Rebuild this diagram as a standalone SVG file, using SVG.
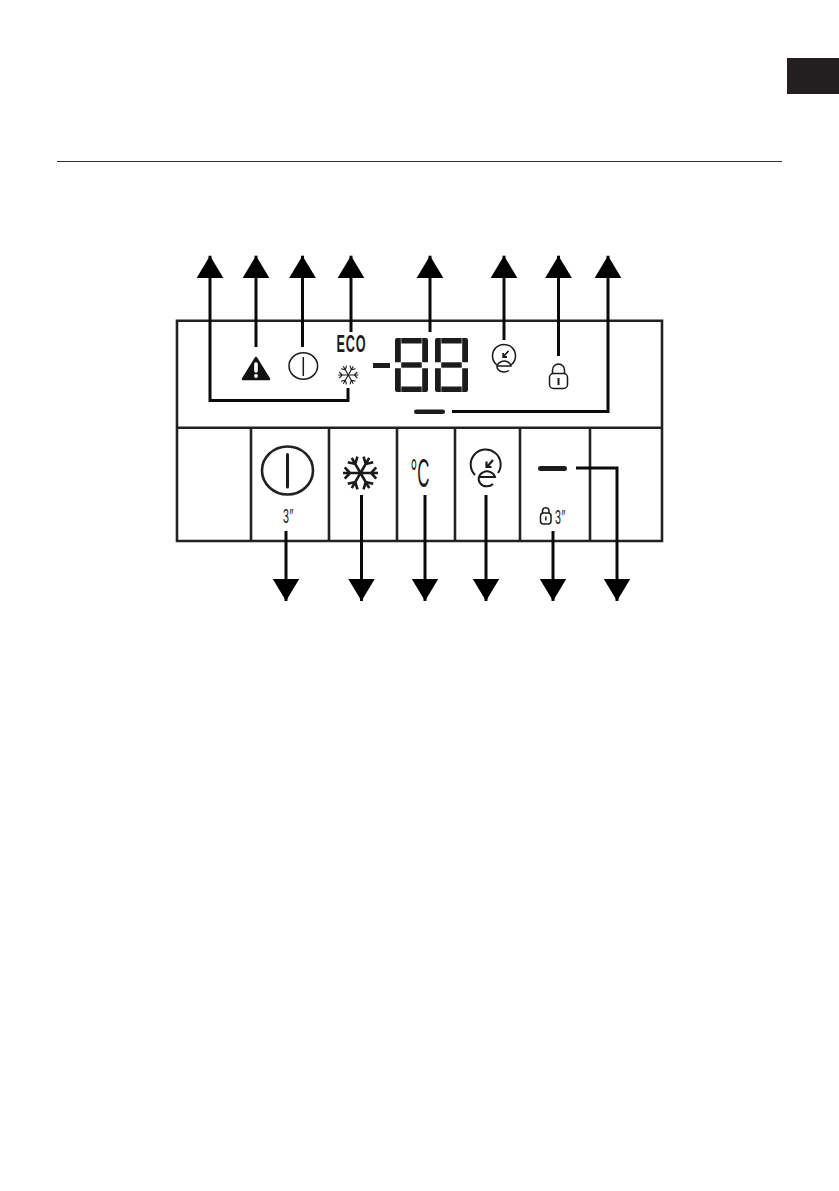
<svg xmlns="http://www.w3.org/2000/svg" width="839" height="1191" viewBox="0 0 839 1191">
<style>
.f{fill:none;stroke:#222;stroke-width:2.6}
.c{fill:none;stroke:#0a0a0a;stroke-width:3}
.i{fill:none;stroke:#1a1a1a;stroke-width:1.5}
.s{fill:#1c1c1c;stroke:none}
.t{font-family:"Liberation Sans",sans-serif;fill:#1a1a1a;opacity:.99}
</style>
<defs>
<marker id="a" markerUnits="userSpaceOnUse" markerWidth="23" markerHeight="28" refX="22.500" refY="14" orient="auto"><path d="M0 .5V27.500L22.500 14Z" fill="#000"/></marker>
<g id="seg">
<rect x="-10.200" y="-27" width="20.400" height="5.500"/>
<path d="M-16.500 -25Q-16.500 -27 -14.500 -27H-10.700V-2.700H-16.500Z"/>
<path d="M16.500 -25Q16.500 -27 14.500 -27H10.700V-2.700H16.500Z"/>
<rect x="-10.200" y="-2.700" width="20.400" height="5.400"/>
<path d="M-16.500 25Q-16.500 27 -14.500 27H-10.700V3.200H-16.500Z"/>
<path d="M16.500 25Q16.500 27 14.500 27H10.700V3.200H16.500Z"/>
<rect x="-10.200" y="21.500" width="20.400" height="5.500"/>
</g>
<path id="arm" d="M0 0H10M9 -3.200L6 0L9 3.200"/>
<g id="snow">
<use href="#arm"/><use href="#arm" transform="rotate(60)"/><use href="#arm" transform="rotate(120)"/><use href="#arm" transform="rotate(180)"/><use href="#arm" transform="rotate(240)"/><use href="#arm" transform="rotate(300)"/>
</g>
</defs>
<rect id="tab" x="787" y="58" width="52" height="36" fill="#231f20"/>
<path id="rule" d="M57 161.500H782" fill="none" stroke="#333" stroke-width="1"/>
<g id="panel">
<path class="f" d="M177 320.800H662V541H177ZM177 427.800H662M251 427.800V541M329 427.800V541M397 427.800V541M455 427.800V541M520 427.800V541M590 427.800V541"/>
</g>
<g id="warning"><path d="M256 358L269 379H243Z" fill="#111" stroke="#111" stroke-width="2.400" stroke-linejoin="round"/><path d="M256 364V371" stroke="#fff" stroke-width="3.600" stroke-linecap="round"/><circle cx="256" cy="376" r="1.900" fill="#fff"/></g>
<g id="power-indicator"><ellipse class="i" cx="303.300" cy="366" rx="14.300" ry="13.200"/><path class="i" d="M303.300 357V376"/></g>
<g id="eco"><text class="t" transform="translate(336.500 352) scale(.54 1)" font-size="23.500" font-weight="bold" letter-spacing="1.500">ECO</text></g>
<g id="snow-indicator"><use href="#snow" transform="translate(348.300 375)" class="i" style="stroke-width:1.100"/></g>
<g id="display"><rect class="s" x="373" y="363" width="17" height="5"/><use href="#seg" class="s" transform="translate(411.500 365)"/><use href="#seg" class="s" transform="translate(451.500 365)"/></g>
<g id="eco-timer-indicator"><path class="i" d="M497 365A11.500 11.500 0 1 1 511 365"/><path class="i" d="M497.500 366H511A7 5.500 0 1 0 509 370.500"/><path class="i" style="stroke-width:1.800" d="M503 357L508.500 351M503.200 353V357H507"/></g>
<g id="lock-indicator"><rect class="i" x="549.500" y="373.500" width="18" height="15" rx="4"/><path class="i" d="M552.500 373.500V370A6 6 0 0 1 564.500 370V373.500"/><path class="i" d="M558.500 378V385" style="stroke-width:2"/></g>
<g id="minus-indicator"><rect class="s" x="414" y="409.500" width="31" height="4.500" rx="2.200"/></g>
<g id="power-key"><ellipse class="f" cx="287.500" cy="470.500" rx="25.500" ry="24"/><path d="M287.500 454.500V487" stroke="#1a1a1a" stroke-width="3" stroke-linecap="round"/><text class="t" transform="translate(283 523) scale(.52 1)" font-size="20.500" letter-spacing="1">3″</text></g>
<g id="snow-key"><use href="#snow" transform="translate(360.500 473) scale(1.750)" class="i"/></g>
<g id="unit-key"><text class="t" transform="translate(410.500 487) scale(.42 1)" font-size="40">°C</text></g>
<g id="eco-key"><path class="i" style="stroke-width:2" d="M475 475A15 15 0 1 1 498 473"/><path class="i" style="stroke-width:2" d="M478.500 477H495A8.300 7.500 0 1 0 493 484"/><path d="M493 460L487 467M486.500 461.500V467H491.500" stroke="#1a1a1a" stroke-width="2.200" fill="none"/></g>
<g id="minus-key"><rect class="s" x="538" y="466" width="29" height="5" rx="2.500"/><rect class="i" x="540.500" y="513" width="10.500" height="11" rx="3"/><path class="i" d="M542.500 513V510.500A3.300 3.300 0 0 1 549 510.500V513M545.800 516.500V520.500"/><text class="t" transform="translate(555 524) scale(.52 1)" font-size="20.500" letter-spacing="1">3″</text></g>
<g id="connectors">
<path class="c" d="M348 388V400.500H210V255.700" marker-end="url(#a)"/>
<path class="c" d="M256 347V255.700" marker-end="url(#a)"/>
<path class="c" d="M302.500 347V255.700" marker-end="url(#a)"/>
<path class="c" d="M351 332V255.700" marker-end="url(#a)"/>
<path class="c" d="M430 332V255.700" marker-end="url(#a)"/>
<path class="c" d="M504 340V255.700" marker-end="url(#a)"/>
<path class="c" d="M558.500 356V255.700" marker-end="url(#a)"/>
<path class="c" d="M452 411.500H608V255.700" marker-end="url(#a)"/>
<path class="c" d="M286 531V601" marker-end="url(#a)"/>
<path class="c" d="M361.500 495V601" marker-end="url(#a)"/>
<path class="c" d="M425 495V601" marker-end="url(#a)"/>
<path class="c" d="M486 495V601" marker-end="url(#a)"/>
<path class="c" d="M553 531V601" marker-end="url(#a)"/>
<path class="c" d="M576 468H617V601" marker-end="url(#a)"/>
</g>
</svg>
